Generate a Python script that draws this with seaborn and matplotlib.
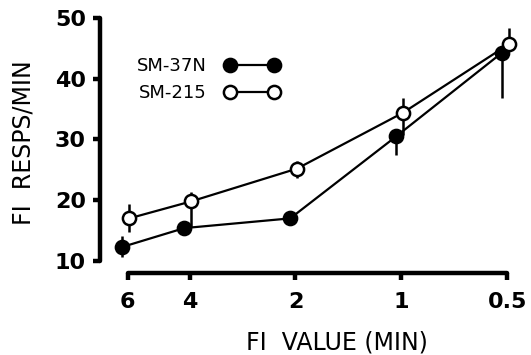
"""FI response rate vs FI value for two strains, replotted with seaborn."""

import matplotlib

matplotlib.use("Agg")

import matplotlib.pyplot as plt  # noqa: E402
import pandas as pd  # noqa: E402
import seaborn as sns  # noqa: E402

# FI schedule values (minutes), axis runs 6 -> 0.5
fi_values = [6, 4, 2, 1, 0.5]
fi_labels = ["6", "4", "2", "1", "0.5"]

# SM-37N (filled circles)
sm37n_rate = [12.3, 15.4, 17.0, 30.5, 44.3]
sm37n_err_lo = [1.6, 0.0, 0.0, 3.0, 7.4]
sm37n_err_hi = [1.8, 0.0, 0.0, 0.0, 0.0]

# SM-215 (open circles)
sm215_rate = [17.0, 19.8, 25.2, 34.4, 45.7]
sm215_err_lo = [2.3, 4.2, 1.6, 3.6, 0.0]
sm215_err_hi = [2.3, 1.5, 1.2, 2.4, 2.6]

y_ticks = [10, 20, 30, 40, 50]

sns.set_style("ticks")
plt.rcParams["font.family"] = ["DejaVu Sans"]
for key in ("text.color", "axes.labelcolor", "xtick.color", "ytick.color", "axes.edgecolor"):
    plt.rcParams[key] = "black"

df = pd.DataFrame(
    {
        "fi": fi_values * 2,
        "rate": sm37n_rate + sm215_rate,
        "strain": ["SM-37N"] * 5 + ["SM-215"] * 5,
    }
)
# small horizontal dodge so filled points sit just left of the open ones
dodge = {"SM-37N": 1.035, "SM-215": 0.99}
df["fi_plot"] = df["fi"] * df["strain"].map(dodge)

fig = plt.figure(figsize=(5.31, 3.55), dpi=100)
ax = fig.add_axes([0.188, 0.231, 0.785, 0.735])

for strain, face, lo, hi in [
    ("SM-37N", "black", sm37n_err_lo, sm37n_err_hi),
    ("SM-215", "white", sm215_err_lo, sm215_err_hi),
]:
    sub = df[df["strain"] == strain]
    ax.errorbar(
        sub["fi_plot"], sub["rate"], yerr=[lo, hi],
        fmt="none", ecolor="black", elinewidth=1.8, capsize=0, zorder=2,
    )
    sns.lineplot(
        data=sub, x="fi_plot", y="rate", ax=ax, color="black",
        linewidth=1.6, marker="o", markersize=9.5,
        markerfacecolor=face, markeredgecolor="black", markeredgewidth=1.8,
        label=strain, zorder=3, sort=False,
    )

ax.set_xscale("log")
ax.set_xlim(7.2, 0.47)
ax.set_ylim(8.0, 51)
ax.set_xticks(fi_values)
ax.set_xticklabels(fi_labels)
ax.xaxis.set_minor_locator(matplotlib.ticker.NullLocator())
ax.set_yticks(y_ticks)

sns.despine(ax=ax)
ax.spines["left"].set_bounds(10, 50)
ax.spines["bottom"].set_bounds(6, 0.5)
for side in ("left", "bottom"):
    ax.spines[side].set_linewidth(3.2)
    ax.spines[side].set_capstyle("round")
ax.tick_params(axis="both", width=3.2, length=5, labelsize=16)
ax.tick_params(axis="x", pad=9)
ax.tick_params(axis="y", pad=5)
for lab in ax.get_xticklabels() + ax.get_yticklabels():
    lab.set_fontweight("bold")

ax.set_xlabel("FI  VALUE (MIN)", fontsize=17)
ax.xaxis.set_label_coords(0.57, -0.22)
ax.set_ylabel("FI  RESPS/MIN", fontsize=17, labelpad=14)

leg = ax.legend(
    loc="upper left", bbox_to_anchor=(0.05, 0.89), frameon=False,
    markerfirst=False, numpoints=2, handlelength=3.0, fontsize=13,
    labelspacing=0.5, handletextpad=1.0,
)

fig.savefig("out.png", dpi=100)
